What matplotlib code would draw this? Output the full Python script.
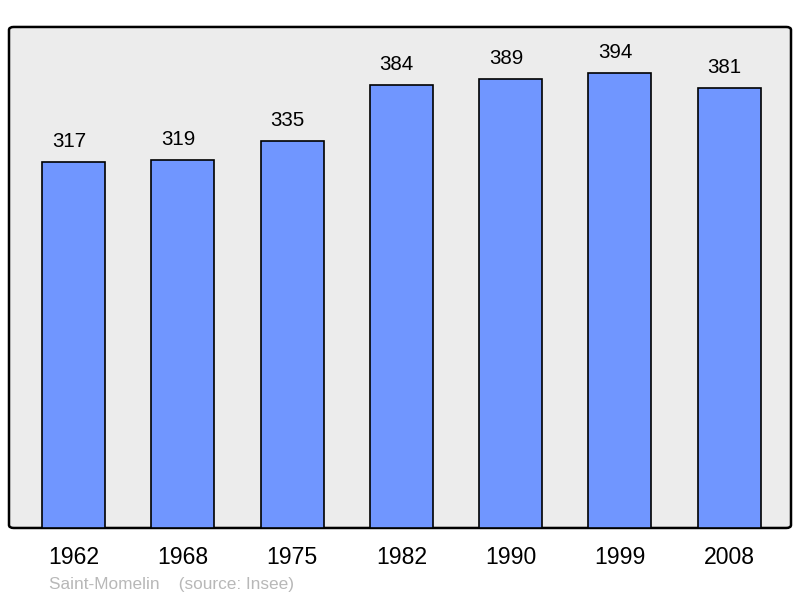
import matplotlib.pyplot as plt
from matplotlib.patches import FancyBboxPatch

years = ['1962', '1968', '1975', '1982', '1990', '1999', '2008']
population = [317, 319, 335, 384, 389, 394, 381]

plt.rcParams['font.family'] = ['Liberation Sans', 'DejaVu Sans']

fig = plt.figure(figsize=(8, 5.98), dpi=100)
ax = fig.add_axes([0.01125, 0.1171, 0.9775, 0.8378])
ax.set_facecolor('none')

# rounded frame behind the bars
frame = FancyBboxPatch((0, 0), 1, 1, boxstyle='round,pad=0,rounding_size=0.006',
                       transform=ax.transAxes, facecolor='#ececec', edgecolor='black',
                       linewidth=1.8, clip_on=False, zorder=0)
ax.add_patch(frame)
for s in ax.spines.values():
    s.set_visible(False)

x = range(len(years))
bars = ax.bar(x, population, width=0.577, color='#7096ff', edgecolor='black',
              linewidth=1.2, zorder=2)

for bar, val in zip(bars, population):
    ax.annotate(str(val), (bar.get_x() + bar.get_width() / 2, bar.get_height()),
                xytext=(-3.3, 8), textcoords='offset points', ha='center', va='bottom',
                fontsize=14.8, color='black')

ax.set_xlim(-0.59, 6.565)
ax.set_ylim(0, 434)
ax.set_yticks([])
ax.set_xticks(list(x))
ax.set_xticklabels(years, fontsize=16.6)
ax.tick_params(axis='x', length=0, pad=13)

fig.text(49 / 800, 1 - 584 / 598, 'Saint-Momelin    (source: Insee)', fontsize=12.4,
         color='#b8b8b8', va='center', ha='left')

fig.savefig('out.png', dpi=100)
